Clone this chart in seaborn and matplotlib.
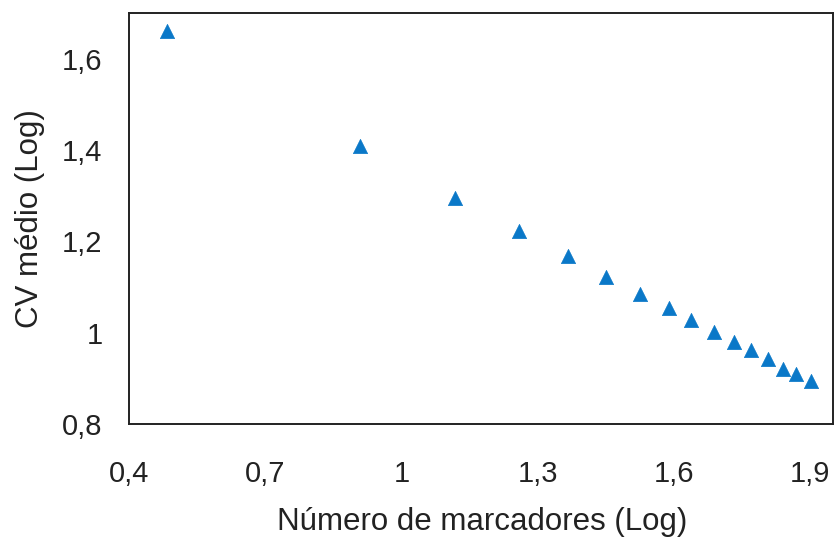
import matplotlib
matplotlib.use("Agg")
import matplotlib.pyplot as plt
import seaborn as sns
import pandas as pd

log_markers = [0.484, 0.908, 1.117, 1.259, 1.367, 1.451, 1.524, 1.588,
               1.638, 1.689, 1.731, 1.769, 1.806, 1.841, 1.868, 1.901]
log_cv = [1.661, 1.409, 1.296, 1.222, 1.167, 1.121, 1.084, 1.055,
          1.028, 1.002, 0.980, 0.961, 0.943, 0.921, 0.910, 0.895]
x_ticks = [0.4, 0.7, 1.0, 1.3, 1.6, 1.9]
x_tick_labels = ["0,4", "0,7", "1", "1,3", "1,6", "1,9"]
y_ticks = [0.8, 1.0, 1.2, 1.4, 1.6]
y_tick_labels = ["0,8", "1", "1,2", "1,4", "1,6"]

df = pd.DataFrame({"x": log_markers, "y": log_cv})

sns.set_style("white")
plt.rcParams['font.family'] = ['Liberation Sans', 'DejaVu Sans']

fig = plt.figure(figsize=(8.35, 5.4), dpi=100)
ax = fig.add_axes([0.1545, 0.2148, 0.8431, 0.7611])
sns.scatterplot(data=df, x="x", y="y", marker="^", s=105, color="#0a78c8",
                edgecolor="#0a78c8", linewidth=0.5, ax=ax, legend=False)

ax.set_xlim(0.4, 1.95)
ax.set_ylim(0.8, 1.7)
ax.set_xticks(x_ticks)
ax.set_xticklabels(x_tick_labels)
ax.set_yticks(y_ticks)
ax.set_yticklabels(y_tick_labels)
ax.tick_params(axis="both", direction="in", length=6, width=1, color="#444444",
               labelsize=21, labelcolor="#222222")
ax.tick_params(axis="x", pad=26)
ax.tick_params(axis="y", pad=19)
for sp in ax.spines.values():
    sp.set_visible(True)
    sp.set_color("#222222")
    sp.set_linewidth(1.4)

ax.set_xlabel("Número de marcadores (Log)", fontsize=22.5, color="#222222")
ax.set_ylabel("CV médio (Log)", fontsize=22.5, color="#222222")
ax.xaxis.set_label_coords(0.501, -0.203)
ax.yaxis.set_label_coords(-0.12, 0.5)

fig.savefig("out.png", dpi=100)
